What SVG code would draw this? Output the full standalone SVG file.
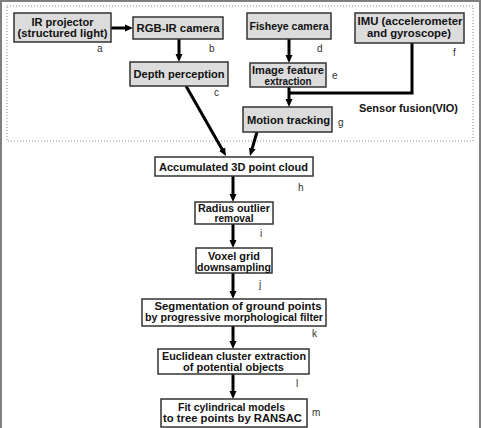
<svg xmlns="http://www.w3.org/2000/svg" width="481" height="428" viewBox="0 0 481 428">
<style>
.box{stroke:#333;stroke-width:1.5}
.g{fill:#dcdcdc}
.w{fill:#fff}
.t{font-family:"Liberation Sans",Arial,sans-serif;font-weight:bold;font-size:11px;fill:#111;text-anchor:middle}
.t2{font-family:"Liberation Sans",Arial,sans-serif;font-weight:bold;font-size:10px;fill:#111;text-anchor:middle}
.l{font-family:"Liberation Sans",Arial,sans-serif;font-size:10px;fill:#333}
.c{stroke:#000;stroke-width:3;fill:none}
</style>
<defs>
<marker id="ah" markerUnits="userSpaceOnUse" markerWidth="8" markerHeight="8" viewBox="0 0 8 8" refX="3" refY="4" orient="auto">
<path d="M0,0.5 L8,4 L0,7.5 z" fill="#000"/>
</marker>
</defs>
<rect width="481" height="428" fill="#fff"/>
<path d="M1,428 V1 H480 V428" fill="none" stroke="#808080" stroke-width="2"/>
<rect x="7" y="6" width="466" height="135" fill="none" stroke="#888" stroke-width="1" stroke-dasharray="1,2"/>

<g id="connectors">
<line class="c" x1="111" y1="28" x2="128" y2="28" marker-end="url(#ah)"/>
<line class="c" x1="179" y1="39" x2="179" y2="57" marker-end="url(#ah)"/>
<line class="c" x1="289" y1="39" x2="289" y2="58" marker-end="url(#ah)"/>
<line class="c" x1="289" y1="87" x2="289" y2="102" marker-end="url(#ah)"/>
<polyline class="c" points="412,43 412,93 289,93"/>
<line class="c" x1="186" y1="86" x2="223.5" y2="151.7" marker-end="url(#ah)"/>
<line class="c" x1="257" y1="132" x2="251.4" y2="151.2" marker-end="url(#ah)"/>
<line class="c" x1="233" y1="176" x2="233" y2="197" marker-end="url(#ah)"/>
<line class="c" x1="233" y1="224" x2="233" y2="243" marker-end="url(#ah)"/>
<line class="c" x1="233" y1="273" x2="233" y2="294" marker-end="url(#ah)"/>
<line class="c" x1="233" y1="326" x2="233" y2="344" marker-end="url(#ah)"/>
<line class="c" x1="233" y1="374" x2="233" y2="394" marker-end="url(#ah)"/>
</g>

<g id="a">
<rect class="box g" x="14" y="13" width="97" height="29"/>
<text class="t2" x="62.5" y="26" textLength="62" lengthAdjust="spacingAndGlyphs">IR projector</text>
<text class="t2" x="62.5" y="37" textLength="90" lengthAdjust="spacingAndGlyphs">(structured light)</text>
<text class="l" x="97" y="52">a</text>
</g>
<g id="b">
<rect class="box g" x="133" y="17" width="90" height="22"/>
<text class="t" x="178" y="32" textLength="83" lengthAdjust="spacingAndGlyphs">RGB-IR camera</text>
<text class="l" x="209" y="52">b</text>
</g>
<g id="c">
<rect class="box g" x="130" y="62" width="98" height="24"/>
<text class="t" x="179" y="78" textLength="91" lengthAdjust="spacingAndGlyphs">Depth perception</text>
<text class="l" x="214" y="96">c</text>
</g>
<g id="d">
<rect class="box g" x="247" y="13" width="84" height="26"/>
<text class="t" x="289" y="30" textLength="79" lengthAdjust="spacingAndGlyphs">Fisheye camera</text>
<text class="l" x="317" y="52">d</text>
</g>
<g id="e">
<rect class="box g" x="250" y="63" width="76" height="24"/>
<text class="t2" x="288" y="74" textLength="72" lengthAdjust="spacingAndGlyphs">Image feature</text>
<text class="t2" x="288" y="85" textLength="47" lengthAdjust="spacingAndGlyphs">extraction</text>
<text class="l" x="332" y="79">e</text>
</g>
<g id="f">
<rect class="box g" x="355" y="13" width="109" height="30"/>
<text class="t2" x="410" y="25" textLength="105" lengthAdjust="spacingAndGlyphs">IMU (accelerometer</text>
<text class="t2" x="409" y="37" textLength="84" lengthAdjust="spacingAndGlyphs">and gyroscope)</text>
<text class="l" x="453" y="56">f</text>
</g>
<g id="g">
<rect class="box g" x="243" y="107" width="89" height="25"/>
<text class="t" x="288.5" y="123.5" textLength="83" lengthAdjust="spacingAndGlyphs">Motion tracking</text>
<text class="l" x="338" y="126">g</text>
</g>
<g id="vio">
<text class="t" x="408.5" y="112" textLength="99" lengthAdjust="spacingAndGlyphs">Sensor fusion(VIO)</text>
</g>
<g id="h">
<rect class="box w" x="155" y="157" width="158" height="19"/>
<text class="t" x="233.5" y="170.5" textLength="149" lengthAdjust="spacingAndGlyphs">Accumulated 3D point cloud</text>
<text class="l" x="298" y="191">h</text>
</g>
<g id="i">
<rect class="box w" x="195" y="202" width="78" height="22"/>
<text class="t2" x="234" y="211.5" textLength="72" lengthAdjust="spacingAndGlyphs">Radius outlier</text>
<text class="t2" x="234" y="222" textLength="39" lengthAdjust="spacingAndGlyphs">removal</text>
<text class="l" x="260" y="237">i</text>
</g>
<g id="j">
<rect class="box w" x="196" y="248" width="76" height="25"/>
<text class="t2" x="234" y="259.5" textLength="52" lengthAdjust="spacingAndGlyphs">Voxel grid</text>
<text class="t2" x="234" y="270.5" textLength="74" lengthAdjust="spacingAndGlyphs">downsampling</text>
<text class="l" x="259" y="288">j</text>
</g>
<g id="k">
<rect class="box w" x="142" y="299" width="184" height="27"/>
<text class="t2" x="238" y="310" textLength="167" lengthAdjust="spacingAndGlyphs">Segmentation of ground points</text>
<text class="t2" x="234" y="321" textLength="178" lengthAdjust="spacingAndGlyphs">by progressive morphological filter</text>
<text class="l" x="312" y="337">k</text>
</g>
<g id="l">
<rect class="box w" x="158" y="349" width="151" height="25"/>
<text class="t2" x="234" y="360" textLength="144" lengthAdjust="spacingAndGlyphs">Euclidean cluster extraction</text>
<text class="t2" x="233.5" y="371" textLength="101" lengthAdjust="spacingAndGlyphs">of potential objects</text>
<text class="l" x="296" y="387">l</text>
</g>
<g id="m">
<rect class="box w" x="161" y="399" width="146" height="28"/>
<text class="t2" x="231.5" y="411" textLength="107" lengthAdjust="spacingAndGlyphs">Fit cylindrical models</text>
<text class="t2" x="232.5" y="422" textLength="139" lengthAdjust="spacingAndGlyphs">to tree points by RANSAC</text>
<text class="l" x="312" y="416">m</text>
</g>
</svg>
